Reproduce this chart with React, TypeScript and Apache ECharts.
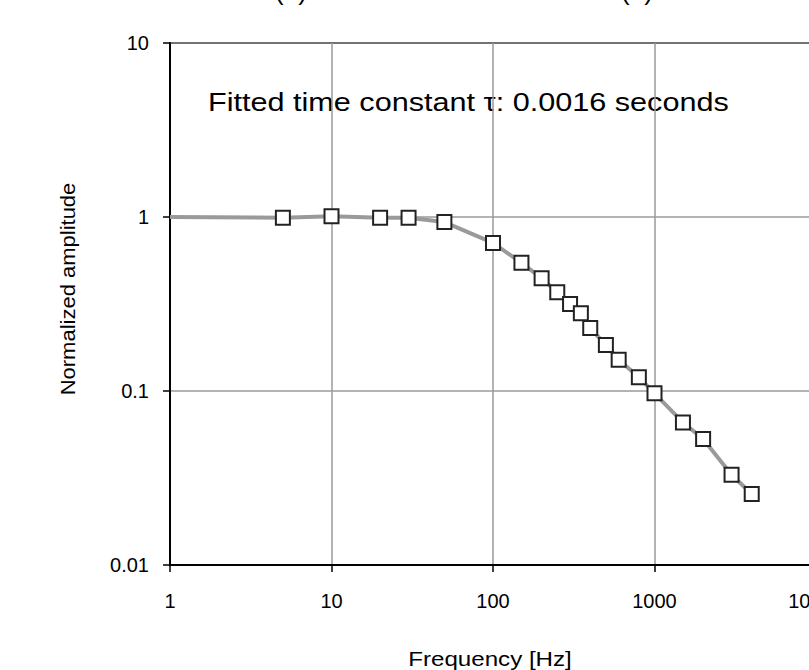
import React, { useEffect, useRef } from "react";
import * as echarts from "echarts";

const frequencyHz = [5, 10, 20, 30, 50, 100, 150, 200, 250, 300, 350, 400, 500, 600, 800, 1000, 1500, 2000, 3000, 4000];
const normalizedAmplitude = [0.99, 1.01, 0.99, 0.99, 0.935, 0.71, 0.545, 0.445, 0.37, 0.316, 0.28, 0.23, 0.184, 0.151, 0.12, 0.097, 0.066, 0.053, 0.033, 0.0256];
const fitStartFreq = [1];
const fitStartAmp = [1];

const annotation = "Fitted time constant \u03c4: 0.0016 seconds";
const xTitle = "Frequency [Hz]";
const yTitle = "Normalized amplitude";
const panelLabels = ["(a)", "(b)"];

function fmt(v: number): string {
  return String(Number(v.toPrecision(3)));
}

export default function App() {
  const ref = useRef<HTMLDivElement>(null);
  useEffect(() => {
    document.body.style.margin = "0";
    const chart = echarts.init(ref.current!, null, { renderer: "svg" });
    const points = frequencyHz.map((f, i) => [f, normalizedAmplitude[i]]);
    const fitLine = fitStartFreq.map((f, i) => [f, fitStartAmp[i]]).concat(points);
    chart.setOption({
      animation: false,
      backgroundColor: "#fff",
      grid: {
        left: 170,
        top: 43,
        right: 20,
        bottom: 105,
        outerBoundsMode: "none",
        containLabel: false,
        show: true,
        borderColor: "#000",
        borderWidth: 2,
        backgroundColor: "transparent",
      },
      xAxis: {
        type: "log",
        logBase: 10,
        min: 1,
        max: 10000,
        axisLine: { show: true, lineStyle: { color: "#000", width: 2 } },
        axisTick: { show: true, length: 7, lineStyle: { color: "#000", width: 1.5 } },
        axisLabel: { color: "#000", fontFamily: "Liberation Sans", fontSize: 20, margin: 26, formatter: (v: number) => fmt(v) },
        splitLine: { show: true, lineStyle: { color: "#9a9a9a", width: 1.5 } },
        minorTick: { show: false },
      },
      yAxis: {
        type: "log",
        logBase: 10,
        min: 0.01,
        max: 10,
        axisLine: { show: true, lineStyle: { color: "#000", width: 2 } },
        axisTick: { show: true, length: 7, lineStyle: { color: "#000", width: 1.5 } },
        axisLabel: { color: "#000", fontFamily: "Liberation Sans", fontSize: 20, margin: 21, formatter: (v: number) => fmt(v) },
        splitLine: { show: true, lineStyle: { color: "#9a9a9a", width: 1.5 } },
      },
      graphic: [
        {
          type: "text",
          x: 208,
          y: 103,
          scaleX: 1.225,
          style: { text: annotation, fontFamily: "Liberation Sans", fontSize: 25, fill: "#000", align: "left", verticalAlign: "middle" },
        },
        {
          type: "text",
          x: 490,
          y: 659,
          scaleX: 1.15,
          style: { text: xTitle, fontFamily: "Liberation Sans", fontSize: 21, fill: "#000", align: "center", verticalAlign: "middle" },
        },
        {
          type: "text",
          x: 68,
          y: 289,
          rotation: Math.PI / 2,
          scaleX: 1.1,
          style: { text: yTitle, fontFamily: "Liberation Sans", fontSize: 20, fill: "#000", align: "center", verticalAlign: "middle" },
        },
        {
          type: "text",
          x: 291,
          y: 4,
          style: { text: panelLabels[0], fontFamily: "Liberation Sans", fontSize: 26, fill: "#000", align: "center", verticalAlign: "bottom" },
        },
        {
          type: "text",
          x: 637,
          y: 4,
          style: { text: panelLabels[1], fontFamily: "Liberation Sans", fontSize: 26, fill: "#000", align: "center", verticalAlign: "bottom" },
        },
      ],
      series: [
        {
          type: "line",
          data: fitLine,
          showSymbol: false,
          symbol: "none",
          lineStyle: { color: "#9a9a9a", width: 4 },
          z: 2,
        },
        {
          type: "scatter",
          data: points,
          symbol: "rect",
          symbolSize: 14,
          itemStyle: { color: "#fff", borderColor: "#222", borderWidth: 2, opacity: 1 },
          z: 3,
        },
      ],
    });
    return () => chart.dispose();
  }, []);
  return (
    <div style={{ width: 809, height: 670, overflow: "hidden" }}>
      <div ref={ref} style={{ width: 836, height: 670 }} />
    </div>
  );
}
